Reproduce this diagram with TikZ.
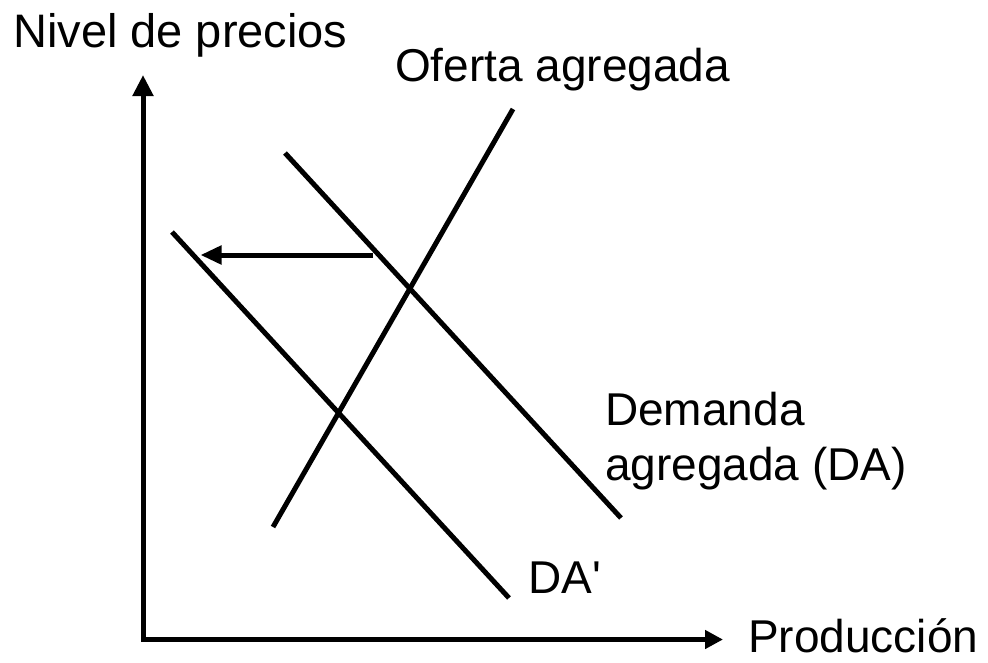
\documentclass[tikz,border=0pt]{standalone}
\usepackage{fontspec}
\setmainfont{Liberation Sans}
\newfontfamily\plainsans{Liberation Sans}
\usetikzlibrary{arrows.meta}
\begin{document}
\begin{tikzpicture}[x=1pt,y=-1pt,
  curve/.style={line width=5pt},
  lbl/.style={anchor=base west,inner sep=0pt,font=\fontsize{46}{55}\selectfont,align=left}]
\useasboundingbox (0,0) rectangle (988,662);
% axes
\coordinate (ytop) at (143,75);
\coordinate (orig) at (143,639.5);
\coordinate (xend) at (723,639.5);
\draw[curve,{Triangle[length=21pt,width=20pt]}-{Triangle[length=18pt,width=18pt]}] (ytop) -- (orig) -- (xend);
% curves
\coordinate (oa1) at (273,527);
\coordinate (oa2) at (513,109);
\coordinate (da1) at (285,153);
\coordinate (da2) at (621,518);
\coordinate (dp1) at (172,232);
\coordinate (dp2) at (509,598);
\draw[curve] (oa1) -- (oa2);
\draw[curve] (da1) -- (da2);
\draw[curve] (dp1) -- (dp2);
% shift arrow
\coordinate (sa1) at (373,255);
\coordinate (sa2) at (200.5,255);
\draw[curve,{}-{Triangle[length=21pt,width=18pt]}] (sa1) -- (sa2);
% labels
\node[lbl,font=\fontsize{47}{55}\selectfont] (ny) at (13,47) {Nivel de precios};
\node[lbl] (no) at (395,81) {Oferta agregada};
\node[lbl] (nd) at (605,480) {Demanda\\agregada (DA)};
\node[lbl,font=\plainsans\fontsize{46}{55}\selectfont] (ndp) at (528,593) {DA'};
\node[lbl] (nx) at (748,652) {Producción};
\end{tikzpicture}
\end{document}
